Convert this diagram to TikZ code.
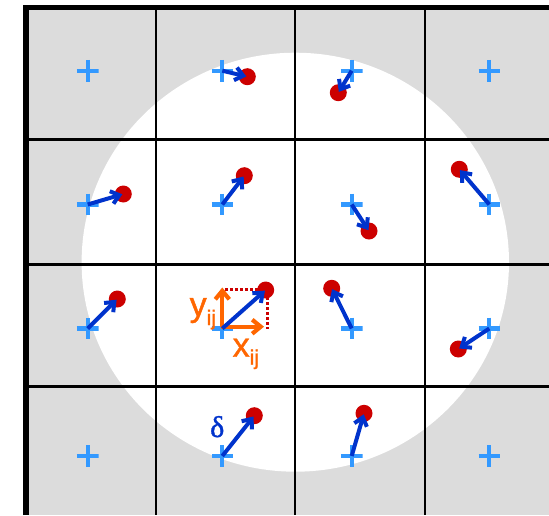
\documentclass[tikz,border=0pt]{standalone}
\usepackage{fontspec}
\setmainfont{Liberation Sans}
\newfontfamily\lblfont{Liberation Sans}[FakeBold=1.2]
\newfontfamily\greekserif{Liberation Serif}[FakeBold=1.2]
\usetikzlibrary{arrows.meta,calc}
\definecolor{gridgray}{RGB}{220,220,220}
\definecolor{plusblue}{RGB}{51,153,255}
\definecolor{vecblue}{RGB}{0,51,204}
\definecolor{dotred}{RGB}{204,0,0}
\definecolor{offorange}{RGB}{255,102,0}
\tikzset{
  plusmark/.style={shape=rectangle,minimum size=21.6pt,inner sep=0pt,draw=none,
    path picture={\draw[plusblue,line width=4.2pt]
      (path picture bounding box.north) -- (path picture bounding box.south)
      (path picture bounding box.west) -- (path picture bounding box.east);}},
  dotmark/.style={shape=circle,fill=dotred,draw=none,minimum size=17pt,inner sep=0pt},
  vec/.style={draw=vecblue,line width=4pt,-{Straight Barb[length=8pt,width=13pt]},shorten >=1pt},
  offvec/.style={draw=offorange,line width=4.2pt,-{Straight Barb[length=8.5pt,width=14pt]}},
  guide/.style={draw=dotred,line width=2.6pt,dash pattern=on 2.6pt off 2.4pt},
  gridline/.style={draw=black,line width=2.8pt},
  frameline/.style={draw=black,line width=5.4pt},
  lbl/.style={inner sep=0pt,anchor=base west}
}
\begin{document}
\begin{tikzpicture}[x=1pt,y=-1pt]
\useasboundingbox (0,0) rectangle (549,515);
% background
\fill[gridgray] (28.6,10) rectangle (549,515);
\fill[white] (295.3,262.2) ellipse [x radius=213.7, y radius=209.5];
% grid
\draw[gridline] (156,10) -- (156,515);
\draw[gridline] (295,10) -- (295,515);
\draw[gridline] (425,10) -- (425,515);
\draw[gridline] (28.6,139.5) -- (549,139.5);
\draw[gridline] (28.6,264.3) -- (549,264.3);
\draw[gridline] (28.6,386.7) -- (549,386.7);
\draw[frameline] (26,515) -- (26,7.5) -- (549,7.5);
% plus markers (lattice points)
\node[plusmark] (p11) at (87.7,70.7) {};
\node[plusmark] (p12) at (222.3,70.7) {};
\node[plusmark] (p13) at (351.7,70.7) {};
\node[plusmark] (p14) at (489.3,70.7) {};
\node[plusmark] (p21) at (87.7,204.5) {};
\node[plusmark] (p22) at (222.3,204.5) {};
\node[plusmark] (p23) at (351.7,204.5) {};
\node[plusmark] (p24) at (489.3,204.5) {};
\node[plusmark] (p31) at (87.7,328.5) {};
\node[plusmark] (p32) at (222.3,328.5) {};
\node[plusmark] (p33) at (351.7,328.5) {};
\node[plusmark] (p34) at (489.3,328.5) {};
\node[plusmark] (p41) at (87.7,456) {};
\node[plusmark] (p42) at (222.3,456) {};
\node[plusmark] (p43) at (351.7,456) {};
\node[plusmark] (p44) at (489.3,456) {};
% dotted guides
\coordinate (g1) at (225,289.3);
\coordinate (g2) at (267.3,289.3);
\coordinate (g3) at (267.3,329.3);
\draw[guide] (g1) -- (g2) -- (g3);
% dots
\node[dotmark] (d12) at (247.3,76.7) {};
\node[dotmark] (d13) at (338.3,92.7) {};
\node[dotmark] (d21) at (123.3,194) {};
\node[dotmark] (d22) at (244.3,175.7) {};
\node[dotmark] (d23) at (369,231) {};
\node[dotmark] (d24) at (459.3,169.3) {};
\node[dotmark] (d31) at (117.3,299) {};
\node[dotmark] (d32) at (265.7,290) {};
\node[dotmark] (d33) at (331.7,288.3) {};
\node[dotmark] (d34) at (458.3,349) {};
\node[dotmark] (d42) at (254.3,415.7) {};
\node[dotmark] (d43) at (364,413.3) {};
% offset components
\coordinate (oy) at (222.3,287.5);
\coordinate (ox) at (264,326.7);
\draw[offvec] ($(p32.center)+(0,-2)$) -- (oy);
\draw[offvec] ($(p32.center)+(-1,-1.8)$) -- (ox);
% displacement vectors
\draw[vec] (p12.center) -- (d12.center);
\draw[vec] (p13.center) -- (d13.center);
\draw[vec] (p21.center) -- (d21.center);
\draw[vec] (p22.center) -- (d22.center);
\draw[vec] (p23.center) -- (d23.center);
\draw[vec] (p24.center) -- (d24.center);
\draw[vec] (p31.center) -- (d31.center);
\draw[vec] (p32.center) -- (d32.center);
\draw[vec] (p33.center) -- (d33.center);
\draw[vec] (p34.center) -- (d34.center);
\draw[vec] (p42.center) -- (d42.center);
\draw[vec] (p43.center) -- (d43.center);
% labels
\node[lbl,text=offorange] (ly) at (189.5,316) {\lblfont\fontsize{34}{34}\selectfont y\raisebox{-9pt}{\fontsize{21}{21}\selectfont ij}};
\node[lbl,text=offorange] (lx) at (232.5,356.7) {\lblfont\fontsize{34}{34}\selectfont x\raisebox{-8pt}{\fontsize{21}{21}\selectfont ij}};
\node[lbl,text=vecblue] (ld) at (210,437) {\greekserif\fontsize{30}{30}\selectfont δ};
\end{tikzpicture}
\end{document}
